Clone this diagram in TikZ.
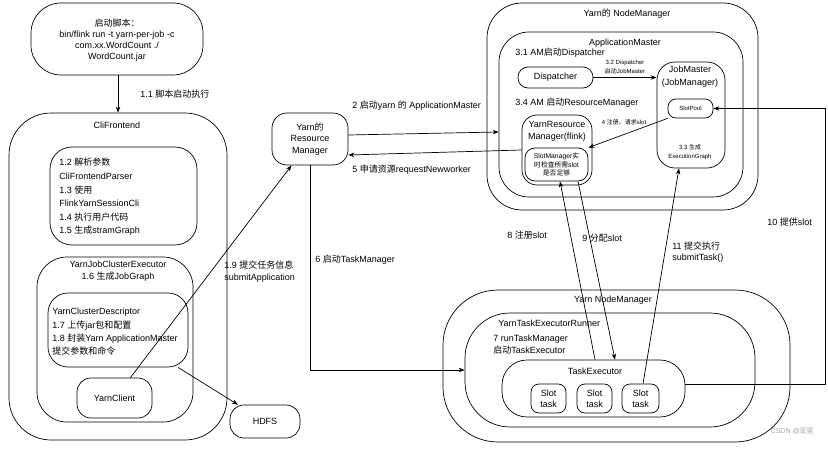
\documentclass[tikz,border=0pt]{standalone}
\usepackage{fontspec}
\setmainfont{Liberation Sans}
\newfontfamily\cjkfont{Noto Sans CJK SC}
\newcommand\zhtxt[1]{{\cjkfont #1}}
\usetikzlibrary{arrows.meta,calc}
\begin{document}
\begin{tikzpicture}[x=1pt,y=-1pt, line width=0.7pt,
  box/.style={draw, rectangle, inner sep=0pt},
  txt/.style={inner sep=0pt, font=\fontsize{9}{11}\selectfont, align=center},
  lst/.style={inner sep=0pt, font=\fontsize{9}{13.6}\selectfont, align=left, anchor=west},
  tiny/.style={inner sep=0pt, font=\fontsize{6}{9}\selectfont, align=center},
  arr/.style={-{Stealth[length=6pt,width=4.5pt]}},
]
\useasboundingbox (0,0) rectangle (828,452);

% ---------------- left column ----------------
\node[box, minimum width=172pt, minimum height=72pt, rounded corners=30pt] (start) at (117,39) {};
\node[txt, font=\fontsize{9}{11.2}\selectfont] (starttxt) at (117,40) {\zhtxt{启动脚本：}\\bin/flink run -t yarn-per-job -c\\com.xx.WordCount ./\\WordCount.jar};

\node[box, minimum width=218pt, minimum height=327pt, rounded corners=42pt] (cli) at (118,276.5) {};
\node[txt] (clit) at (117,125) {CliFrontend};

\draw[arr] (start.south -| cli.north) -- (cli.north);
\node[txt, anchor=west] (l11) at (140,94) {1.1 \zhtxt{脚本启动执行}};

\node[box, minimum width=147pt, minimum height=98pt, rounded corners=22pt] (parse) at (123.5,196) {};
\node[lst] (parset) at (59,197) {1.2 \zhtxt{解析参数}\\CliFrontendParser\\1.3 \zhtxt{使用}\\FlinkYarnSessionCli\\1.4 \zhtxt{执行用户代码}\\1.5 \zhtxt{生成}stramGraph};

\node[box, minimum width=156pt, minimum height=165pt, rounded corners=30pt] (exec) at (115,339.5) {};
\node[txt, font=\fontsize{9}{12}\selectfont] (exect) at (118,271) {YarnJobClusterExecutor\\1.6 \zhtxt{生成}JobGraph};

\node[box, minimum width=140pt, minimum height=74pt, rounded corners=20pt] (desc) at (118,330) {};
\node[lst, font=\fontsize{9}{13.4}\selectfont] (desct) at (52,332) {YarnClusterDescriptor\\1.7 \zhtxt{上传}jar\zhtxt{包和配置}\\1.8 \zhtxt{封装}Yarn ApplicationMaster\\\zhtxt{提交参数和命令}};

\node[box, txt, minimum width=75pt, minimum height=40pt, rounded corners=14pt] (yclient) at (114.5,398) {YarnClient};
\node[box, txt, minimum width=70pt, minimum height=33pt, rounded corners=14pt] (hdfs) at (265,421.5) {HDFS};

\node[box, txt, font=\fontsize{9}{11.5}\selectfont, minimum width=76pt, minimum height=52pt, rounded corners=15pt] (rm) at (310,139) {Yarn\zhtxt{的}\\Resource\\Manager};

\draw[arr] (desc) -- (hdfs);
\draw[arr] (yclient.52) -- (rm.-125);
\node[lst, font=\fontsize{9}{12}\selectfont] (l19) at (224,272) {1.9 \zhtxt{提交任务信息}\\submitApplication};

% ---------------- top NodeManager ----------------
\node[box, minimum width=271pt, minimum height=207pt, rounded corners=35pt] (nm1) at (622.5,106.5) {};
\node[txt] (nm1t) at (627,14) {Yarn\zhtxt{的} NodeManager};
\node[box, minimum width=244pt, minimum height=165pt, rounded corners=30pt] (am) at (621,114.5) {};
\node[txt] (amt) at (625,43) {ApplicationMaster};
\node[txt, anchor=west] (l31) at (515,53) {3.1 AM\zhtxt{启动}Dispatcher};
\node[txt, anchor=west] (l34) at (515,103) {3.4 AM \zhtxt{启动}ResourceManager};
\node[box, txt, minimum width=75pt, minimum height=21pt, rounded corners=10pt] (disp) at (555.5,77.5) {Dispatcher};

\node[box, minimum width=68pt, minimum height=106pt, rounded corners=18pt] (jm) at (691,115) {};
\node[txt, font=\fontsize{9}{13}\selectfont] (jmt) at (690,76.5) {JobMaster\\(JobManager)};
\node[box, tiny, minimum width=45pt, minimum height=19pt, rounded corners=8pt] (slotpool) at (690.5,108.5) {SlotPool};
\node[tiny] (l33) at (690,152) {3.3 \zhtxt{生成}\\ExecutionGraph};

\node[box, minimum width=70pt, minimum height=70pt, rounded corners=15pt] (yrm) at (557,150) {};
\node[txt, font=\fontsize{9}{12}\selectfont] (yrmt) at (557,131) {YarnResource\\Manager(flink)};
\node[box, tiny, font=\fontsize{6.8}{8.5}\selectfont, minimum width=63pt, minimum height=33pt, rounded corners=10pt] (sm) at (556.5,164.5) {SlotManager\zhtxt{实}\\\zhtxt{时检查所需}slot\\\zhtxt{是否足够}};

\draw[arr] (disp.east) -- (disp.east -| jm.west);
\node[tiny] (l32) at (625,67) {3.2 Dispatcher\\\zhtxt{启动}JobMaster};
\draw[arr] (slotpool.south west) -- (sm.north east);
\node[tiny] (l4) at (624,122) {4 \zhtxt{注册、请求}slot};

\draw[arr] ([yshift=4pt]rm.east) -- ([yshift=-17.5pt]am.west);
\node[txt, anchor=west] (l2) at (352,106) {2 \zhtxt{启动}yarn \zhtxt{的} ApplicationMaster};
\draw[arr] (yrm.west) -- ([yshift=-16pt]rm.east);
\node[txt, anchor=west] (l5) at (352,170) {5 \zhtxt{申请资源}requestNewworker};

% ---------------- bottom NodeManager ----------------
\node[box, minimum width=347pt, minimum height=152pt, rounded corners=55pt] (nm2) at (616.5,366) {};
\node[txt] (nm2t) at (613,300) {Yarn NodeManager};
\node[box, minimum width=290pt, minimum height=114pt, rounded corners=45pt] (runner) at (610,370) {};
\node[txt, anchor=west] (runnert) at (498,323) {YarnTaskExecutorRunner};
\node[lst, font=\fontsize{9}{12}\selectfont] (l7) at (493,345) {7 runTaskManager\\\zhtxt{启动}TaskExecutor};
\node[box, minimum width=183pt, minimum height=57pt, rounded corners=25pt] (te) at (593.5,388.5) {};
\node[txt] (tet) at (595,371) {TaskExecutor};
\node[box, txt, minimum width=35pt, minimum height=29pt, rounded corners=8pt] (s1) at (548.5,398.5) {Slot\\task};
\node[box, txt, minimum width=35pt, minimum height=29pt, rounded corners=8pt] (s2) at (594.5,398.5) {Slot\\task};
\node[box, txt, minimum width=37pt, minimum height=29pt, rounded corners=8pt] (s3) at (640.5,398.5) {Slot\\task};

\draw[arr] (rm.south) |- (runner.west);
\node[txt, anchor=west] (l6) at (315,260) {6 \zhtxt{启动}TaskManager};

\draw[arr] ([xshift=1.5pt]te.north) -- ([xshift=3.5pt]sm.south);
\draw[arr] ([xshift=21.5pt]sm.south) -- ([xshift=21.5pt]te.north);
\draw[arr] ([xshift=2.5pt]s3.north) -- ([xshift=-12pt]jm.south);
\draw[arr] ([yshift=4pt]te.east) -- ++(140,0) |- (slotpool.east);

\node[txt, anchor=west] (l8) at (507,235) {8 \zhtxt{注册}slot};
\node[txt, anchor=west] (l9) at (582,238) {9 \zhtxt{分配}slot};
\node[lst, font=\fontsize{9}{11}\selectfont] (l11b) at (672,252) {11 \zhtxt{提交执行}\\submitTask()};
\node[txt, anchor=west] (l10) at (767,222) {10 \zhtxt{提供}slot};
\node[txt, font=\fontsize{7}{8}\selectfont, text=black!35, anchor=east] (wm) at (814,431) {CSDN @\zhtxt{亚里}};
\end{tikzpicture}
\end{document}
